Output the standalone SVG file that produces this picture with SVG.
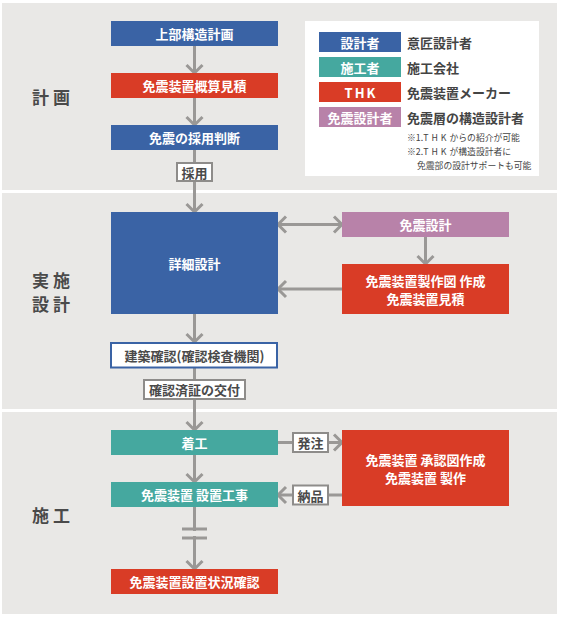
<svg xmlns="http://www.w3.org/2000/svg" width="561" height="617" viewBox="0 0 561 617">
<defs>
<style>
.panel{fill:#e9e8e6}
.t{font-family:"Noto Sans CJK JP","Noto Sans",sans-serif;font-weight:700;font-size:13px;text-anchor:middle;dominant-baseline:central}
.w{fill:#ffffff}
.d{fill:#4a4a4a}
.sec{font-family:"Noto Sans CJK JP","Noto Sans",sans-serif;font-weight:700;font-size:17px;fill:#4a4a4a;letter-spacing:4px}
.lg{font-family:"Noto Sans CJK JP","Noto Sans",sans-serif;font-weight:700;font-size:13px;fill:#444444;dominant-baseline:central}
.note{font-family:"Noto Sans CJK JP","Noto Sans",sans-serif;font-weight:400;font-size:8.8px;fill:#444444}
.ln{stroke:#9a9896;stroke-width:3;fill:none}
.lbl{fill:#ffffff;stroke:#8e8c8a;stroke-width:2}
.blue{fill:#3a63a5}
.red{fill:#d93c26}
.teal{fill:#45a89f}
.purple{fill:#b882a9}
</style>
<marker id="ah" markerUnits="userSpaceOnUse" markerWidth="24" markerHeight="24" refX="12" refY="12" orient="auto-start-reverse">
<path d="M4,4 L12,12 L4,20" fill="none" stroke="#9a9896" stroke-width="3"/>
</marker>
</defs>
<rect width="561" height="617" fill="#ffffff"/>
<g id="panels">
<rect class="panel" x="2" y="3" width="555" height="187"/>
<rect class="panel" x="2" y="193" width="555" height="216"/>
<rect class="panel" x="2" y="412" width="555" height="202"/>
<text class="sec" x="32" y="104">計画</text>
<text class="sec" x="32" y="287">実施</text>
<text class="sec" x="32" y="311">設計</text>
<text class="sec" x="32" y="522">施工</text>
</g>
<g id="connectors">
<line class="ln" x1="194.5" y1="46" x2="194.5" y2="73" marker-end="url(#ah)"/>
<line class="ln" x1="194.5" y1="98" x2="194.5" y2="125" marker-end="url(#ah)"/>
<line class="ln" x1="194.5" y1="150" x2="194.5" y2="212" marker-end="url(#ah)"/>
<line class="ln" x1="194.5" y1="314" x2="194.5" y2="342" marker-end="url(#ah)"/>
<line class="ln" x1="194.5" y1="368" x2="194.5" y2="430" marker-end="url(#ah)"/>
<line class="ln" x1="194.5" y1="455" x2="194.5" y2="482" marker-end="url(#ah)"/>
<line class="ln" x1="194.5" y1="507" x2="194.5" y2="531"/>
<line class="ln" x1="194.5" y1="536" x2="194.5" y2="569" marker-end="url(#ah)"/>
<rect x="182" y="527.5" width="25" height="3" fill="#9a9896"/>
<rect x="182" y="536.5" width="25" height="3" fill="#9a9896"/>
<line class="ln" x1="278" y1="224.5" x2="342" y2="224.5" marker-start="url(#ah)" marker-end="url(#ah)"/>
<line class="ln" x1="425.5" y1="237" x2="425.5" y2="264" marker-end="url(#ah)"/>
<line class="ln" x1="342" y1="289" x2="278" y2="289" marker-end="url(#ah)"/>
<line class="ln" x1="278" y1="442.5" x2="342" y2="442.5" marker-end="url(#ah)"/>
<line class="ln" x1="342" y1="495" x2="278" y2="495" marker-end="url(#ah)"/>
<g id="label-saiyo">
<rect class="lbl" x="177" y="163" width="35" height="18"/>
<text class="t d" x="194.5" y="172">採用</text>
</g>
<g id="label-kakunin">
<rect class="lbl" x="144" y="380" width="101" height="19"/>
<text class="t d" x="194.5" y="389.5">確認済証の交付</text>
</g>
<g id="label-hacchu">
<rect class="lbl" x="293" y="433" width="35" height="19"/>
<text class="t d" x="310.5" y="442.5">発注</text>
</g>
<g id="label-nouhin">
<rect class="lbl" x="293" y="485.5" width="35" height="19"/>
<text class="t d" x="310.5" y="495">納品</text>
</g>
</g>
<g id="n-joubu">
<rect class="blue" x="111" y="21" width="167" height="25"/>
<text class="t w" x="194.5" y="33.5">上部構造計画</text>
</g>
<g id="n-gaisan">
<rect class="red" x="111" y="73" width="167" height="25"/>
<text class="t w" x="194.5" y="85.5">免震装置概算見積</text>
</g>
<g id="n-handan">
<rect class="blue" x="111" y="125" width="167" height="25"/>
<text class="t w" x="194.5" y="137.5">免震の採用判断</text>
</g>
<g id="n-shousai">
<rect class="blue" x="111" y="212" width="167" height="102"/>
<text class="t w" x="194.5" y="263">詳細設計</text>
</g>
<g id="n-kenchiku">
<rect x="111" y="343" width="166" height="24.5" fill="#ffffff" stroke="#3a63a5" stroke-width="2"/>
<text class="t d" x="194.5" y="355.5">建築確認(確認検査機関)</text>
</g>
<g id="n-menshin-sekkei">
<rect class="purple" x="342" y="212" width="167" height="25"/>
<text class="t w" x="425.5" y="224.5">免震設計</text>
</g>
<g id="n-seisakuzu">
<rect class="red" x="342" y="264" width="167" height="50"/>
<text class="t w" x="425.5" y="280.5">免震装置製作図 作成</text>
<text class="t w" x="425.5" y="298.5">免震装置見積</text>
</g>
<g id="n-chakkou">
<rect class="teal" x="111" y="430" width="167" height="25"/>
<text class="t w" x="194.5" y="442.5">着工</text>
</g>
<g id="n-setchi">
<rect class="teal" x="111" y="482" width="167" height="25"/>
<text class="t w" x="194.5" y="494.5">免震装置 設置工事</text>
</g>
<g id="n-joukyou">
<rect class="red" x="111" y="569" width="167" height="25"/>
<text class="t w" x="194.5" y="581.5">免震装置設置状況確認</text>
</g>
<g id="n-shounin">
<rect class="red" x="342" y="430" width="167" height="76"/>
<text class="t w" x="425.5" y="459.5">免震装置 承認図作成</text>
<text class="t w" x="425.5" y="477.5">免震装置 製作</text>
</g>
<g id="legend">
<rect x="305" y="21" width="234" height="155" fill="#ffffff"/>
<rect class="blue" x="319" y="32" width="82" height="20"/>
<text class="t w" x="360" y="42">設計者</text>
<text class="lg" x="407" y="42">意匠設計者</text>
<rect class="teal" x="319" y="57" width="82" height="20"/>
<text class="t w" x="360" y="67">施工者</text>
<text class="lg" x="407" y="67">施工会社</text>
<rect class="red" x="319" y="82" width="82" height="20"/>
<text class="t w" x="361" y="92" letter-spacing="2">THK</text>
<text class="lg" x="407" y="92">免震装置メーカー</text>
<rect class="purple" x="319" y="107" width="82" height="20"/>
<text class="t w" x="360" y="117">免震設計者</text>
<text class="lg" x="407" y="117">免震層の構造設計者</text>
<text class="note" x="407" y="141">※1.<tspan letter-spacing="3">THK</tspan>からの紹介が可能</text>
<text class="note" x="407" y="155">※2.<tspan letter-spacing="3">THK</tspan>が構造設計者に</text>
<text class="note" x="417" y="169">免震部の設計サポートも可能</text>
</g>
</svg>
